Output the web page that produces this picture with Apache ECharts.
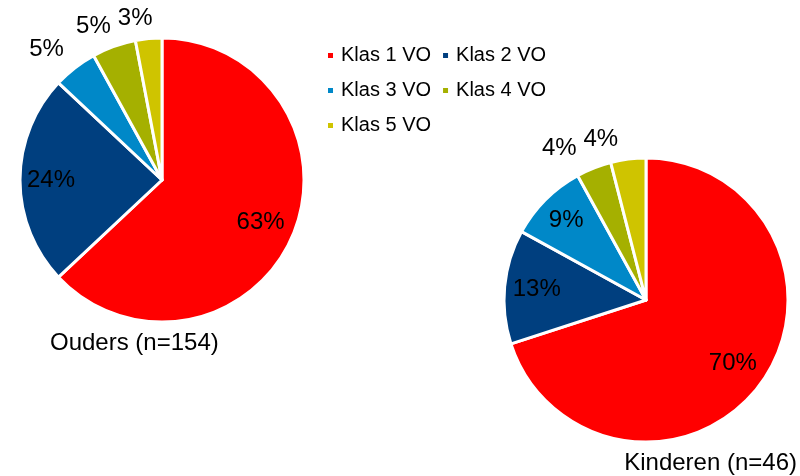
<!DOCTYPE html>
<html>
<head>
<meta charset="utf-8">
<script src="https://cdn.jsdelivr.net/npm/echarts@6/dist/echarts.min.js"></script>
<style>
  html, body { margin: 0; padding: 0; background: #fff; }
  #chart { width: 800px; height: 476px; }
</style>
</head>
<body>
<div id="chart"></div>
<script>
// School year of the respondents, per group (percentages)
const categories = ['Klas 1 VO', 'Klas 2 VO', 'Klas 3 VO', 'Klas 4 VO', 'Klas 5 VO'];
const oudersValues = [63, 24, 5, 5, 3];
const kinderenValues = [70, 13, 9, 4, 4];
const groupTitles = ['Ouders (n=154)', 'Kinderen (n=46)'];

const colors = ['#FF0000', '#003F7F', '#0088C8', '#A5B000', '#CFC400'];
const FONT = '"Liberation Sans", Arial, sans-serif';

const R = 142;               // pie radius in px
const LABEL_SIZE = 24;
const INSIDE_MIN = 9;        // slices of at least this size carry their label inside
const INSIDE_MARGIN = 7;     // gap between an inside label and the rim
const OUTSIDE_MARGIN = 8;    // gap between the rim and an outside label's anchor
const HALF_H = 14;           // half height of a label box
const OUTSIDE_HALF_H = 12;   // vertical offset of an outside label from its anchor

// per pie: centre and an extra sideways nudge for the outside labels
const pies = [
  { values: oudersValues, center: [162, 180], outsideNudge: 0 },
  { values: kinderenValues, center: [646, 300], outsideNudge: -13 }
];

// "best fit" placement: inside labels hug the rim from within,
// small slices get theirs just outside the rim, pushed sideways the more the slice leans
function placeLabel(pie, params) {
  const vals = pie.values;
  const total = vals.reduce((a, b) => a + b, 0);
  let before = 0;
  for (let i = 0; i < params.dataIndex; i++) before += vals[i];
  const mid = (before + vals[params.dataIndex] / 2) / total * Math.PI * 2;
  const dx = Math.sin(mid), dy = -Math.cos(mid);
  const hw = params.labelRect.width / 2;
  const [cx, cy] = pie.center;
  let x, y;
  if (vals[params.dataIndex] >= INSIDE_MIN) {
    const support = hw * Math.abs(dx) + HALF_H * Math.abs(dy);
    const d = R - INSIDE_MARGIN - support;
    x = cx + dx * d;
    y = cy + dy * d;
  } else {
    const d = R + OUTSIDE_MARGIN;
    x = cx + dx * d + Math.sign(dx) * hw * (0.62 + 1.2 * Math.abs(dx)) + pie.outsideNudge;
    y = cy + dy * d + Math.sign(dy) * OUTSIDE_HALF_H;
  }
  return { x, y, align: 'center', verticalAlign: 'middle' };
}

const series = pies.map(p => ({
  type: 'pie',
  center: p.center,
  radius: [0, R],
  startAngle: 90,
  clockwise: true,
  avoidLabelOverlap: false,
  emphasis: { disabled: true },
  itemStyle: { borderColor: '#fff', borderWidth: 3 },
  label: {
    show: true,
    position: 'inside',
    formatter: '{c}%',
    color: '#000',
    fontFamily: FONT,
    fontSize: LABEL_SIZE
  },
  labelLine: { show: false },
  labelLayout: params => placeLabel(p, params),
  data: categories.map((c, i) => ({ name: c, value: p.values[i], itemStyle: { color: colors[i] } }))
}));

const chart = echarts.init(document.getElementById('chart'), null, { renderer: 'canvas' });
chart.setOption({
  animation: false,
  backgroundColor: '#fff',
  title: [
    { text: groupTitles[0], left: 50, top: 331, padding: 0,
      textStyle: { fontFamily: FONT, fontSize: 24, fontWeight: 'normal', color: '#000' } },
    { text: groupTitles[1], right: 3, top: 451, padding: 0,
      textStyle: { fontFamily: FONT, fontSize: 24, fontWeight: 'normal', color: '#000' } }
  ],
  legend: {
    left: 326,
    top: 43,
    width: 236,
    padding: 0,
    orient: 'horizontal',
    itemWidth: 7,
    itemHeight: 7,
    itemGap: 10,
    selectedMode: false,
    icon: 'rect',
    textStyle: { fontFamily: FONT, fontSize: 20, color: '#000', lineHeight: 25, padding: [0, 0, 0, 2] },
    data: categories.map((c, i) => ({ name: c, itemStyle: { color: colors[i] } }))
  },
  series: series
});
</script>
</body>
</html>
